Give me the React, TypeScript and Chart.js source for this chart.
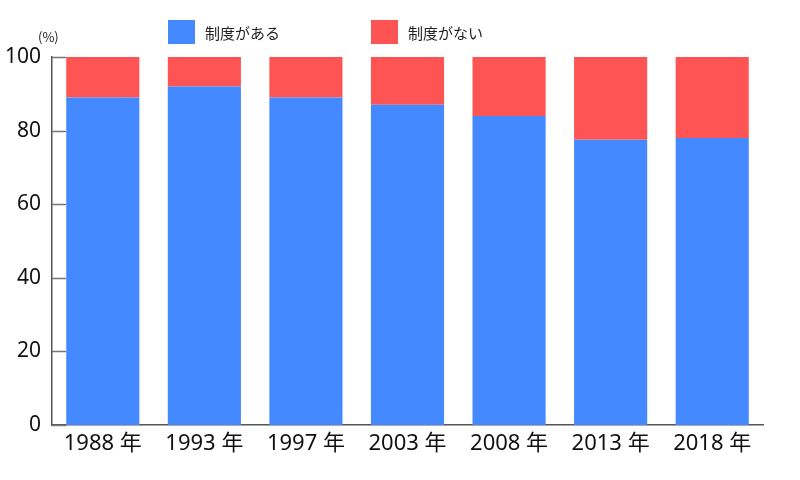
import React, { useEffect, useRef } from "react";
import { Chart, registerables } from "chart.js";

Chart.register(...registerables);

const years = ["1988 年", "1993 年", "1997 年", "2003 年", "2008 年", "2013 年", "2018 年"];
const withSystem = [89, 92, 89, 87, 84, 77.5, 78];
const withoutSystem = [11, 8, 11, 13, 16, 22.5, 22];
const yTicks = [0, 20, 40, 60, 80, 100];

const BLUE = "#4489ff";
const RED = "#ff5454";
const JP_FONT = '"Noto Sans CJK JP", "Noto Sans", sans-serif';
const NUM_FONT = '"Noto Sans", "Noto Sans CJK JP", sans-serif';

// short inward ticks on the y axis + legend and unit label
const decorPlugin = {
  id: "decor",
  beforeDatasetsDraw(chart: any) {
    const { ctx, chartArea, scales } = chart;
    ctx.save();
    ctx.strokeStyle = "#777";
    ctx.lineWidth = 1.5;
    yTicks.forEach((v) => {
      const y = Math.round(scales.y.getPixelForValue(v)) + 0.5;
      ctx.beginPath();
      ctx.moveTo(chartArea.left, y);
      ctx.lineTo(chartArea.left + 14, y);
      ctx.stroke();
    });
    ctx.restore();
  },
  afterDraw(chart: any) {
    const { ctx } = chart;
    ctx.save();
    const items = [
      { x: 168, ds: chart.data.datasets[0] },
      { x: 371, ds: chart.data.datasets[1] },
    ];
    items.forEach((it) => {
      ctx.fillStyle = it.ds.backgroundColor;
      ctx.fillRect(it.x, 20, 27, 24);
      ctx.fillStyle = "#222";
      ctx.font = `15px ${JP_FONT}`;
      ctx.textBaseline = "middle";
      ctx.textAlign = "left";
      ctx.fillText(it.ds.label, it.x + 37, 33);
    });
    ctx.fillStyle = "#222";
    ctx.font = `13px ${JP_FONT}`;
    ctx.textBaseline = "middle";
    ctx.fillText("(%)", 38, 37);
    ctx.restore();
  },
};

const App = () => {
  const canvasRef: any = useRef(null);
  const chartInstance: any = useRef(null);

  useEffect(() => {
    document.body.style.margin = "0";
    if (!canvasRef.current) return;
    const ctx = canvasRef.current.getContext("2d");

    chartInstance.current = new Chart(ctx, {
      type: "bar",
      data: {
        labels: years,
        datasets: [
          {
            label: "制度がある",
            data: withSystem,
            backgroundColor: BLUE,
            categoryPercentage: 1,
            barPercentage: 0.72,
          },
          {
            label: "制度がない",
            data: withoutSystem,
            backgroundColor: RED,
            categoryPercentage: 1,
            barPercentage: 0.72,
          },
        ],
      },
      options: {
        animation: false,
        responsive: true,
        maintainAspectRatio: false,
        layout: {
          padding: { top: 57, right: 37, bottom: 0, left: 0 },
        },
        plugins: {
          legend: { display: false },
          tooltip: { enabled: false },
        },
        scales: {
          x: {
            stacked: true,
            grid: { display: false, drawTicks: false },
            border: { color: "#555", width: 1.5 },
            ticks: {
              color: "#111",
              padding: 6,
              font: { size: 22, family: NUM_FONT },
            },
            afterFit: (scale: any) => {
              scale.height = 55;
            },
          },
          y: {
            stacked: true,
            min: 0,
            max: 100,
            grid: { display: false, drawTicks: false },
            border: { color: "#555", width: 1.5 },
            ticks: {
              stepSize: 20,
              color: "#111",
              padding: 11,
              font: { size: 21, family: NUM_FONT },
            },
            afterFit: (scale: any) => {
              scale.width = 52;
            },
          },
        },
      },
      plugins: [decorPlugin],
    });

    return () => {
      if (chartInstance.current) {
        chartInstance.current.destroy();
      }
    };
  }, []);

  return (
    <div style={{ position: "relative", width: 800, height: 480 }}>
      <canvas ref={canvasRef}></canvas>
    </div>
  );
};

export default App;
